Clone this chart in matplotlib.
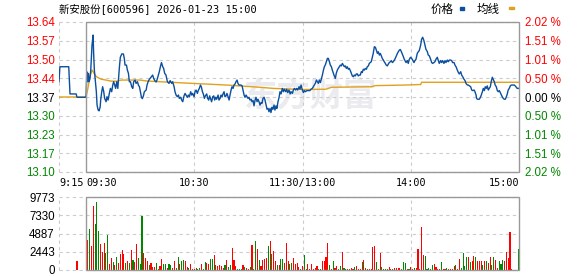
import matplotlib
matplotlib.use('Agg')
import matplotlib.pyplot as plt
from matplotlib.patches import Rectangle
import numpy as np

# ── data (minutes from 09:30, lunch break removed) ──
PREV_CLOSE = 13.37
PCT_LIMIT = 2.02
VOL_MAX = 9773

price_labels = ['13.64', '13.57', '13.50', '13.44', '13.37',
                '13.30', '13.23', '13.17', '13.10']
pct_labels = ['2.02', '1.51', '1.01', '0.50', '0.00',
              '0.50', '1.01', '1.51', '2.02']
vol_labels = ['9773', '7330', '4887', '2443', '0']
time_ticks = [-15, 0, 60, 120, 180, 240]
time_labels = ['9:15', '09:30', '10:30', '11:30/13:00', '14:00', '15:00']

price_t = [-15, -14.5, -9.6, -8.9, -5.5, -5, 0,
           0.4, 0.9, 1.3, 1.7, 2.2, 2.6, 3.0, 3.3, 3.9, 4.2, 4.6, 5.0, 5.4, 5.7,
           6.1, 6.7, 7.2, 7.8, 8.1, 8.7, 9.2, 9.8, 10.3, 11.1, 11.6, 12.2, 12.9,
           13.5, 14.2, 14.8, 15.3, 15.9, 16.4, 17.0, 17.6, 18.1, 18.5, 19.0, 19.8,
           20.7, 21.2, 21.6, 22.4, 22.9, 23.5, 24.0, 24.6, 25.3, 25.9, 26.4, 27.2,
           27.7, 28.5, 29.0, 29.6, 30.1, 30.7, 31.2, 31.8, 32.3, 33.3, 33.8, 34.4,
           35.1, 36.0, 36.9, 37.5, 38.1, 38.8, 39.3, 40.1, 40.6, 41.2, 41.8, 42.5,
           43.0, 43.6, 44.3, 45.1, 46.0, 46.6, 47.5, 48.0, 48.8, 49.3, 49.9, 50.6,
           51.2, 51.7, 52.5, 53.0, 53.6, 54.3, 54.9, 55.4, 56.2, 56.7, 57.3, 58.0,
           58.6, 59.1, 59.9, 60.4, 61.0, 61.7, 62.3, 62.8, 63.4, 63.9, 64.5, 65.0,
           65.6, 66.1, 66.9, 67.4, 68.0, 68.5, 69.1, 69.6, 70.2, 70.8, 71.3, 71.9,
           72.4, 73.2, 73.7, 74.3, 74.8, 75.4, 75.9, 76.5, 77.0, 77.6, 78.1, 78.7,
           79.3, 79.8, 80.4, 80.9, 81.5, 82.0, 82.6, 83.1, 83.7, 84.2, 84.8, 85.4,
           85.9, 86.5, 87.0, 87.6, 88.1, 88.7, 89.2, 89.8, 90.3, 90.9, 91.5, 92.0,
           92.6, 93.1, 93.7, 94.2, 94.8, 95.3, 95.9, 96.4, 97.0, 97.5, 98.1, 98.7,
           99.2, 99.8, 100.3, 100.9, 101.4, 102.0, 102.5, 103.1, 103.6, 104.2,
           104.7, 105.3, 105.8, 106.4, 107.0, 107.5,
           108.1, 108.8, 109.4, 109.9, 110.7, 111.2, 111.8, 112.5, 113.1, 113.6,
           114.4, 114.9, 115.5, 116.2, 116.8, 117.3, 118.1, 118.6, 119.2, 119.9,
           120.5, 121.0, 121.7, 122.3, 123.2, 124.1, 124.7, 125.4, 126.0, 126.5,
           127.1, 127.7, 128.2, 128.8, 129.3, 129.9, 130.4, 131.0, 131.6, 132.1,
           132.6, 133.2, 133.8, 134.3, 134.9, 135.4, 136.0, 136.5, 137.1, 137.6,
           138.2, 138.7, 139.3, 139.8, 140.4, 141.0, 141.5, 142.1, 142.6, 143.2,
           143.7, 144.3, 144.8, 145.4, 145.9, 146.5, 147.1, 147.6, 148.2, 148.7,
           149.3, 149.8, 150.4, 150.9, 151.5, 152.0, 152.6, 153.1, 153.7, 154.3,
           154.8, 155.4, 155.9, 156.5, 157.0, 157.6, 158.1, 158.7, 159.2, 159.8,
           160.4, 160.9, 161.5, 162.0, 162.6, 163.1, 163.7, 164.2, 164.8, 165.3,
           165.9, 166.4, 167.0, 167.6, 168.1, 168.7, 169.2, 169.8, 170.3, 170.9,
           171.4, 172.0, 172.6, 173.1, 173.7, 174.2, 174.8, 175.3, 175.9, 176.4,
           177.4, 178.1, 178.6, 179.2, 179.9, 180.5, 181.0, 181.8, 182.3, 182.9,
           183.6, 184.2, 184.7, 185.5, 186.0, 186.6, 187.3, 187.9, 188.4, 189.2,
           189.7, 190.3, 191.0, 191.6, 192.1, 192.9, 193.4, 194.0, 194.7, 195.3,
           195.8, 196.6, 197.1, 197.7, 198.4, 199.0, 199.5, 200.3, 200.8, 201.4,
           202.1, 202.7, 203.2, 204.0, 204.5, 205.1, 205.8, 206.4, 206.9, 207.7,
           208.2, 208.8, 209.5, 210.1, 210.6, 211.4, 211.9, 212.5, 213.2, 213.8,
           214.3, 215.1, 215.6, 216.2, 216.5, 216.9, 217.5, 218.0, 218.6, 219.1,
           219.7, 220.2, 220.8, 221.3, 221.9, 222.4, 223.0, 223.5, 224.1, 224.6,
           225.2, 225.7, 226.3, 226.8, 227.4, 228.0, 228.5, 229.1, 229.6, 230.2,
           230.7, 231.3, 231.8, 232.4, 232.9, 233.5, 234.0, 234.6, 235.2, 235.7,
           236.3, 236.8, 237.4, 237.9, 238.5, 239.0, 239.6, 240]
price_v = [13.425, 13.479, 13.479, 13.381, 13.381, 13.369, 13.369,
           13.461, 13.425, 13.455, 13.425, 13.437, 13.467, 13.515, 13.557, 13.593,
           13.527, 13.467, 13.437, 13.407, 13.389, 13.341, 13.323, 13.320, 13.333,
           13.359, 13.389, 13.407, 13.389, 13.365, 13.353, 13.371, 13.359, 13.383,
           13.401, 13.389, 13.413, 13.425, 13.413, 13.401, 13.425, 13.401, 13.443,
           13.479, 13.513, 13.525, 13.525, 13.509, 13.485, 13.485, 13.467, 13.455,
           13.425, 13.425, 13.407, 13.401, 13.425, 13.431, 13.419, 13.425, 13.413,
           13.407, 13.389, 13.369, 13.364, 13.374, 13.389, 13.395, 13.413, 13.425,
           13.434, 13.441, 13.449, 13.437, 13.429, 13.424, 13.431, 13.449, 13.461,
           13.479, 13.494, 13.479, 13.473, 13.455, 13.449, 13.425, 13.419, 13.429,
           13.419, 13.425, 13.407, 13.389, 13.377, 13.371, 13.377, 13.365, 13.369,
           13.359, 13.353, 13.374, 13.383, 13.377, 13.369, 13.377, 13.371, 13.389,
           13.377, 13.383, 13.371, 13.389, 13.395, 13.383, 13.395, 13.401, 13.413,
           13.407, 13.389, 13.381, 13.365, 13.374, 13.381, 13.365, 13.359, 13.374,
           13.362, 13.353, 13.371, 13.374, 13.359, 13.369, 13.362, 13.377, 13.359,
           13.365, 13.377, 13.371, 13.381, 13.389, 13.371, 13.374, 13.383, 13.371,
           13.359, 13.377, 13.395, 13.407, 13.401, 13.413, 13.417, 13.425, 13.431,
           13.419, 13.413, 13.413, 13.413, 13.410, 13.395, 13.377, 13.369, 13.377,
           13.371, 13.365, 13.369, 13.359, 13.362, 13.353, 13.357, 13.338, 13.359,
           13.369, 13.353, 13.362, 13.353, 13.341, 13.350, 13.347, 13.365, 13.369,
           13.359, 13.341, 13.326, 13.329, 13.317, 13.329, 13.314, 13.333, 13.326,
           13.341, 13.323, 13.338, 13.329, 13.353, 13.369, 13.389,
           13.381, 13.401, 13.389, 13.398, 13.389, 13.398, 13.386, 13.395, 13.381,
           13.389, 13.383, 13.395, 13.401, 13.395, 13.401, 13.395, 13.407, 13.398,
           13.413, 13.395, 13.386, 13.393, 13.389, 13.393, 13.393, 13.393, 13.398,
           13.401, 13.407, 13.413, 13.419, 13.431, 13.425, 13.419, 13.431, 13.422,
           13.434, 13.449, 13.467, 13.479, 13.485, 13.497, 13.509, 13.509, 13.497,
           13.485, 13.479, 13.467, 13.455, 13.446, 13.437, 13.455, 13.467, 13.473,
           13.479, 13.485, 13.482, 13.491, 13.485, 13.479, 13.482, 13.473, 13.479,
           13.470, 13.473, 13.465, 13.455, 13.446, 13.443, 13.449, 13.446, 13.453,
           13.453, 13.446, 13.449, 13.449, 13.461, 13.458, 13.470, 13.467, 13.473,
           13.470, 13.479, 13.482, 13.491, 13.494, 13.497, 13.513, 13.527, 13.551,
           13.549, 13.539, 13.527, 13.533, 13.521, 13.527, 13.518, 13.509, 13.503,
           13.497, 13.491, 13.485, 13.482, 13.489, 13.494, 13.497, 13.501, 13.494,
           13.497, 13.503, 13.509, 13.518, 13.527, 13.533, 13.539, 13.541, 13.533,
           13.525, 13.515, 13.506,
           13.494, 13.501, 13.491, 13.506, 13.513, 13.509, 13.503, 13.494, 13.501,
           13.506, 13.527, 13.533, 13.537, 13.557, 13.578, 13.585, 13.573, 13.557,
           13.542, 13.533, 13.521, 13.518, 13.506, 13.494, 13.491, 13.494, 13.497,
           13.506, 13.513, 13.501, 13.491, 13.501, 13.494, 13.501, 13.491, 13.501,
           13.494, 13.503, 13.497, 13.503, 13.503, 13.501, 13.494, 13.494, 13.485,
           13.479, 13.467, 13.458, 13.453, 13.461, 13.449, 13.443, 13.434, 13.429,
           13.419, 13.413, 13.413, 13.410, 13.407, 13.395, 13.393, 13.395, 13.389,
           13.377, 13.365, 13.362, 13.362, 13.362, 13.369, 13.377, 13.389, 13.401,
           13.393, 13.407, 13.401, 13.410, 13.395, 13.401, 13.407, 13.425, 13.441,
           13.434, 13.425, 13.413, 13.407, 13.393, 13.389, 13.393, 13.386, 13.377,
           13.371, 13.365, 13.362, 13.362, 13.369, 13.381, 13.395, 13.401, 13.410,
           13.413, 13.413, 13.413, 13.413, 13.410, 13.405, 13.401, 13.401, 13.401]

avg_t = [-15, 0, 1.0, 2.0, 3.3, 4.5, 5.5, 6.5, 8.5, 11, 14, 17, 19.5, 30, 33,
         41, 59, 78, 96.4, 103.8, 120, 133, 136.1, 158.3, 160.2, 176.8, 185.5,
         186, 240]
avg_v = [13.37, 13.37, 13.40, 13.44, 13.467, 13.455, 13.445, 13.440, 13.434,
         13.431, 13.427, 13.427, 13.431, 13.431, 13.428, 13.425, 13.419, 13.413,
         13.405, 13.401, 13.397, 13.398, 13.405, 13.407, 13.411, 13.413, 13.415,
         13.423, 13.423]

vol_t = [-5] + list(range(1, 237)) + [240]
vol_v = [1200,
         4000, 5550, 3200, 8520, 6220, 9100, 5200, 3420, 2350, 3550, 2220, 4660,
         800, 1550, 1020, 670, 1730, 890, 2090, 2660, 2090, 890, 1200, 890, 2660,
         1330, 1110, 3420, 1550, 760, 7190, 2220, 1550, 1200, 670, 890, 400, 400,
         890, 130, 580, 1420, 800, 760, 310, 760, 670, 270, 1200, 270, 1780, 800,
         1200, 1330, 1200, 440, 310, 800, 180, 180, 270, 180, 220, 800, 180, 1020,
         980, 760, 1470, 1470, 2000, 670, 580, 670, 530, 310,
         670, 1330, 440, 670, 2980, 1330, 580, 130, 130, 130, 670, 440, 220, 130,
         440, 3330, 130, 3860, 2800, 1330, 530, 1330, 1470, 1550, 3200, 3860,
         2130, 2530, 1200, 670, 670, 1470, 1470, 930, 3600, 1200, 800, 930, 1600,
         800, 930, 400, 130, 530, 2000, 130, 800, 130, 800, 130, 270, 530, 130,
         130, 1200, 1200, 1730, 3600, 670, 130, 1200, 270, 530, 130, 530, 2400,
         270, 130, 130, 130, 270, 130, 400, 530, 130, 130, 1070, 1330, 270, 130,
         130,
         130, 3060, 3200, 1070, 130, 2260, 400, 130, 130, 130, 400, 130, 130, 270,
         270, 270, 270, 130, 1070, 930, 130, 130, 400, 130, 270, 270, 2800, 130,
         5700, 2000, 1870, 130, 270, 130, 670, 800, 400, 130, 130, 1070, 130, 130,
         270, 130, 130, 130, 530, 670, 130, 1470, 270, 2260, 530, 1730, 1730,
         1070, 1200, 1870, 1730, 1200, 1200, 1200, 670, 1200, 1200, 930, 1730,
         670, 1730, 1330, 270, 1200, 800, 1330, 1200, 2400, 1600, 5150, 130,
         2800]
# R = up minute (red), G = down minute (green)
vol_dir = ('R'
           'RGRRGGGRRR' 'GGRRGRGRRR' 'RGRGRGRRGG' 'GRRRGRRRGG'
           'RRGGRGGRRG' 'GRGGRRGRRR' 'GRGRGGRRGG' 'RGRRRR'
           'GRGGRRRGGG' 'RGRRGRGGRG' 'RRRRGRGRRG' 'RGGRRRGGRR'
           'RRGRGGRRRR' 'RRGGRRRRGR' 'GRRGGRGGRG' 'RRGRRRGRRG' 'R'
           'RRRGRRGGGG' 'RRGRRRRGGG' 'RGRRGRRRRR' 'GGGGGRRRRG'
           'RRGRRRRGRR' 'GGGGRGRRGR' 'RRGRGRRGGR' 'RGGGRRRRR'
           'G')

up, down = '#ff0000', '#008800'
price_color, avg_color = '#0b4f9f', '#e0a21c'
grid_kw = dict(color='#cccccc', lw=0.8, ls=(0, (3, 3)), zorder=1, clip_on=False)

fig = plt.figure(figsize=(5.78, 2.76), dpi=100)
W, H = 578, 276
ax = fig.add_axes([59 / W, 1 - 172 / H, 460 / W, 150 / H])
axv = fig.add_axes([59 / W, 1 - 270 / H, 460 / W, 73 / H])

ylo = PREV_CLOSE * (1 - PCT_LIMIT / 100)
yhi = PREV_CLOSE * (1 + PCT_LIMIT / 100)
levels = np.linspace(yhi, ylo, len(price_labels))
vlevels = np.linspace(VOL_MAX, 0, len(vol_labels))

for a in (ax, axv):
    a.set_xlim(-15, 240)
    for s in a.spines.values():
        s.set_visible(False)
    a.set_facecolor('none')
    for t in (-15, 60, 120, 180):
        a.axvline(t, **grid_kw)
ax.set_ylim(ylo, yhi)
axv.set_ylim(0, VOL_MAX)
for lv in levels:
    ax.axhline(lv, **grid_kw)
for lv in vlevels:
    axv.axhline(lv, **grid_kw)

# solid frames for the trading session
ax.add_patch(Rectangle((0, ylo), 240, yhi - ylo, fill=False, ec='#999999',
                       lw=1.0, zorder=4, clip_on=False))
axv.add_patch(Rectangle((0, 0), 240, VOL_MAX, fill=False, ec='#999999',
                        lw=1.0, zorder=4, clip_on=False))

ax.text(0.546, 0.5, '东方财富', transform=ax.transAxes, fontsize=24,
        color='#ebebef', fontweight='bold', family='Noto Sans CJK SC',
        ha='center', va='center', zorder=0)

ax.plot(avg_t, avg_v, color=avg_color, lw=1.0, zorder=2)
ax.plot(price_t, price_v, color=price_color, lw=1.0, zorder=3)

axv.bar(vol_t, vol_v, width=0.6, lw=0, antialiased=False,
        color=[up if d == 'R' else down for d in vol_dir], zorder=2)

# left price labels
lab_font = dict(family='Liberation Sans', size=8.3)
ax.set_yticks(levels)
ax.set_yticklabels(price_labels, fontdict=lab_font)
ax.tick_params(axis='y', length=0, pad=3)
mid = len(price_labels) // 2
for i, tl in enumerate(ax.get_yticklabels()):
    tl.set_color(up if i < mid else ('#000000' if i == mid else down))

# right percent labels
axr = ax.twinx()
axr.set_ylim(ylo, yhi)
for s in axr.spines.values():
    s.set_visible(False)
axr.set_yticks(levels)
axr.set_yticklabels([p + ' %' for p in pct_labels], fontdict=lab_font)
axr.tick_params(axis='y', length=0, pad=4)
for i, tl in enumerate(axr.get_yticklabels()):
    tl.set_color(up if i < mid else ('#000000' if i == mid else down))

# time labels
ax.set_xticks(time_ticks)
ax.set_xticklabels(time_labels, family='DejaVu Sans Mono', fontsize=7.3)
ax.tick_params(axis='x', length=0, pad=4)
xl = ax.get_xticklabels()
xl[0].set_ha('left')
xl[1].set_ha('left')
xl[-1].set_ha('right')

axv.set_xticks([])
axv.set_yticks(vlevels)
axv.set_yticklabels(vol_labels, fontdict=lab_font)
axv.tick_params(axis='y', length=0, pad=3)

# header
fig.text(59 / W, 1 - 9 / H, '新安股份[600596] 2026-01-23 15:00', ha='left',
         va='center', fontsize=7.5, family=['DejaVu Sans Mono', 'Noto Sans CJK SC'])
fig.text(431 / W, 1 - 9 / H, '价格', ha='left', va='center', fontsize=8.3,
         family='Noto Sans CJK SC')
fig.text(477 / W, 1 - 9 / H, '均线', ha='left', va='center', fontsize=8.3,
         family='Noto Sans CJK SC')
fig.patches.append(Rectangle((459.5 / W, 1 - 10 / H), 4 / W, 3 / H,
                             transform=fig.transFigure, color=price_color))
fig.patches.append(Rectangle((508.5 / W, 1 - 9 / H), 5 / W, 2 / H,
                             transform=fig.transFigure, color=avg_color))

fig.savefig('out.png', dpi=100)
